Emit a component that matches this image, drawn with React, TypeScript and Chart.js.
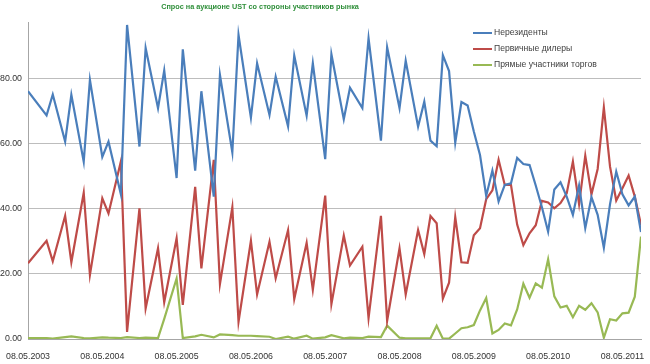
import React, { useEffect, useRef } from 'react';
import { Chart, registerables } from 'chart.js';

Chart.register(...registerables);

// Months elapsed since 08.05.2003 for each auction
const auctionMonths = [
  0, 3, 4, 6, 7, 9, 10, 12, 13, 15, 16, 18, 19, 21, 22, 24, 25, 27, 28, 30,
  31, 33, 34, 36, 37, 39, 40, 42, 43, 45, 46, 48, 49, 51, 52, 54, 55, 57, 58, 60,
  61, 63, 64, 65, 66, 67, 68, 69, 70, 71, 72, 73, 74, 75, 76, 77, 78, 79, 80, 81,
  82, 83, 84, 85, 86, 87, 88, 89, 90, 91, 92, 93, 94, 95, 96, 97, 98, 99,
];

const nonResidents = [
  76.2, 68.8, 75.2, 60.7, 75.1, 54.5, 79.7, 56.0, 60.7, 44.5, 96.6, 59.2, 89.5, 71.0, 82.6, 49.5, 89.1, 51.8, 76.2, 43.8,
  81.2, 57.4, 93.5, 68.1, 84.8, 68.9, 80.7, 65.4, 87.2, 68.7, 84.8, 55.3, 87.6, 67.6, 77.3, 71.0, 92.5, 61.0, 89.7, 71.0,
  85.6, 65.3, 73.0, 61.0, 59.3, 87.3, 82.4, 60.4, 72.9, 71.8, 63.8, 56.6, 44.0, 51.8, 42.3, 47.4, 47.9, 55.7, 53.8, 53.5,
  47.2, 40.5, 33.0, 46.0, 48.2, 43.8, 38.2, 47.2, 34.1, 43.6, 38.2, 28.1, 41.5, 51.5, 44.5, 41.1, 43.8, 32.9,
];

const primaryDealers = [
  23.3, 30.2, 23.9, 37.9, 23.6, 45.0, 19.7, 43.3, 38.6, 54.6, 2.2, 40.2, 9.4, 27.9, 11.3, 31.0, 10.5, 46.8, 21.7, 55.1,
  16.9, 40.5, 5.3, 30.2, 13.7, 29.9, 18.7, 33.5, 12.3, 29.6, 15.1, 44.1, 10.7, 31.8, 22.6, 28.4, 6.4, 37.9, 5.6, 27.9,
  13.7, 33.5, 26.1, 37.8, 35.6, 12.4, 17.3, 37.5, 23.6, 23.4, 31.9, 34.1, 43.0, 45.7, 55.1, 47.4, 47.4, 35.2, 28.9, 32.5,
  35.0, 42.5, 42.0, 40.2, 41.8, 44.8, 54.6, 41.5, 56.4, 44.5, 52.3, 71.2, 53.0, 42.6, 46.4, 50.3, 43.8, 35.1,
];

const directBidders = [
  0.3, 0.3, 0.1, 0.6, 0.8, 0.3, 0.2, 0.5, 0.4, 0.3, 0.6, 0.3, 0.4, 0.3, 6.2, 18.6, 0.3, 0.8, 1.3, 0.5,
  1.4, 1.2, 1.0, 1.0, 0.9, 0.7, 0.0, 0.7, 0.1, 1.0, 0.1, 0.5, 1.2, 0.2, 0.4, 0.3, 0.7, 0.6, 4.1, 0.4,
  0.2, 0.2, 0.2, 0.2, 4.1, 0.1, 0.1, 1.7, 3.3, 3.6, 4.3, 8.8, 12.6, 1.7, 2.8, 4.8, 4.2, 9.1, 17.0, 12.7,
  17.1, 15.8, 24.5, 13.1, 9.7, 10.2, 6.7, 10.2, 9.0, 11.0, 8.2, 0.4, 6.1, 5.7, 7.9, 8.1, 13.0, 31.5,
];

const yearTickLabels = [
  '08.05.2003', '08.05.2004', '08.05.2005', '08.05.2006', '08.05.2007',
  '08.05.2008', '08.05.2009', '08.05.2010', '08.05.2011',
];

const seriesNames = ['Нерезиденты', 'Первичные дилеры', 'Прямые участники торгов'];
const seriesColors = ['#4a7ebb', '#be4b48', '#98b954'];
const chartTitle = 'Спрос на аукционе UST со стороны участников рынка';

const FONT = '"Liberation Sans", Arial, sans-serif';

const titlePlugin = {
  id: 'customTitle',
  afterDraw(chart: any) {
    const ctx = chart.ctx;
    ctx.save();
    ctx.font = `bold 7.3px ${FONT}`;
    ctx.fillStyle = '#2f8f3a';
    ctx.textAlign = 'center';
    ctx.textBaseline = 'middle';
    ctx.fillText(chartTitle, 260, 7);
    ctx.restore();
  },
};

const legendPlugin = {
  id: 'insideLegend',
  afterDraw(chart: any) {
    const ctx = chart.ctx;
    ctx.save();
    ctx.font = `8.6px ${FONT}`;
    ctx.textBaseline = 'middle';
    ctx.textAlign = 'left';
    chart.data.datasets.forEach((ds: any, i: number) => {
      const y = 33 + i * 16;
      ctx.strokeStyle = ds.borderColor;
      ctx.lineWidth = 2;
      ctx.beginPath();
      ctx.moveTo(473, y);
      ctx.lineTo(492, y);
      ctx.stroke();
      ctx.fillStyle = '#404040';
      ctx.fillText(ds.label, 494, y);
    });
    ctx.restore();
  },
};

export default function App() {
  const ref = useRef<HTMLCanvasElement>(null);

  useEffect(() => {
    document.body.style.margin = '0';
    const toPoints = (vals: number[]) => vals.map((v, i) => ({ x: auctionMonths[i], y: v }));
    const seriesValues = [nonResidents, primaryDealers, directBidders];
    const chart = new Chart(ref.current as HTMLCanvasElement, {
      type: 'line',
      data: {
        datasets: seriesValues.map((vals, i) => ({
          label: seriesNames[i],
          data: toPoints(vals),
          borderColor: seriesColors[i],
          backgroundColor: seriesColors[i],
          borderWidth: 2.2,
          pointRadius: 0,
          tension: 0,
          fill: false,
        })),
      },
      options: {
        animation: false,
        responsive: false,
        devicePixelRatio: 1,
        layout: { padding: { top: 22, right: 9, left: 0, bottom: 0 } },
        plugins: {
          legend: { display: false },
          title: { display: false },
          tooltip: { enabled: false },
        },
        scales: {
          x: {
            type: 'linear',
            min: 0,
            max: 99,
            grid: { display: false },
            border: { display: true, color: '#a6a6a6' },
            ticks: {
              stepSize: 12,
              includeBounds: false,
              autoSkip: false,
              maxRotation: 0,
              padding: 4,
              color: '#333333',
              font: { family: FONT, size: 8.8 },
              callback: (_v: any, index: number) => yearTickLabels[index] ?? '',
            },
            afterFit: (s: any) => {
              s.height = 25;
            },
          },
          y: {
            min: 0,
            max: 97.5,
            grid: { color: '#bdbdbd', drawTicks: false },
            border: { display: true, color: '#a6a6a6' },
            ticks: {
              stepSize: 20,
              includeBounds: false,
              padding: 6,
              color: '#333333',
              font: { family: FONT, size: 8.8 },
              callback: (v: any) => Number(v).toFixed(2),
            },
            afterFit: (s: any) => {
              s.width = 28;
            },
          },
        },
      },
      plugins: [titlePlugin, legendPlugin],
    });
    return () => chart.destroy();
  }, []);

  return (
    <div style={{ width: 650, height: 364, background: '#ffffff' }}>
      <canvas ref={ref} width={650} height={364} style={{ display: 'block' }} />
    </div>
  );
}
